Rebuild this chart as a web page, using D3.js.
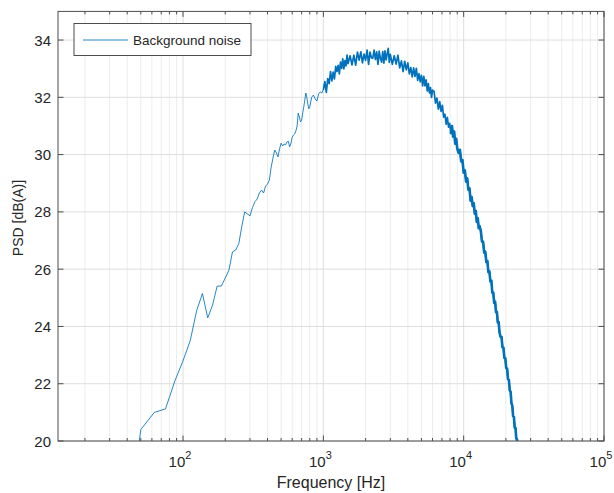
<!DOCTYPE html>
<html>
<head>
<meta charset="utf-8">
<script src="https://cdn.jsdelivr.net/npm/d3@7"></script>
<style>
body { margin:0; background:#fff; }
text { font-family: "Liberation Sans", Arial, sans-serif; fill:#262626; }
</style>
</head>
<body>
<script>
// PSD readings, low part (sparse FFT bins) then the dense noisy part
var freqLow = [37.5, 50, 62.5, 75, 87.5, 100, 112.5, 125, 137.5, 150, 162.5, 175, 187.5, 200, 212.5, 225, 237.5, 250, 262.5, 275,
  287.5, 300, 312.5, 325, 337.5, 350, 362.5, 375, 387.5, 400, 412.5, 425, 437.5, 450, 462.5, 475, 487.5, 500, 512.5, 525,
  537.5, 550, 562.5, 575, 587.5, 600, 612.5, 625, 637.5, 650, 662.5, 675, 687.5, 700, 712.5, 725, 737.5, 750, 762.5, 775,
  787.5, 800, 825, 850, 875, 900, 925, 950, 975, 1000];
var psdLow = [15.5, 20.4, 21.0, 21.12, 22.1, 22.8, 23.5, 24.55, 25.15, 24.3, 24.75, 25.41, 25.41, 25.69, 25.97, 26.6, 26.67, 26.9, 27.5, 28.0,
  27.93, 27.86, 28.15, 28.35, 28.45, 28.66, 28.76, 28.66, 28.9, 28.97, 29.11, 29.57, 29.88, 30.16, 30.06, 29.92, 30.2, 30.4, 30.3, 30.37,
  30.34, 30.44, 30.47, 30.27, 30.4, 30.61, 30.68, 30.72, 30.83, 31.0, 31.45, 31.31, 31.14, 31.2, 31.45, 31.66, 31.9, 32.15, 32.0, 31.77,
  31.6, 31.66, 32.0, 32.08, 31.94, 31.87, 32.12, 32.19, 32.15, 32.26];

var freqHigh = [1025, 1050, 1075, 1100, 1125, 1150, 1175, 1200, 1225, 1250, 1275, 1300, 1325, 1350, 1375, 1400, 1425, 1450, 1475, 1500,
  1550, 1600, 1650, 1700, 1750, 1800, 1850, 1900, 1950, 2000, 2050, 2100, 2150, 2200, 2250, 2300, 2350, 2400, 2450, 2500,
  2550, 2600, 2650, 2700, 2750, 2800, 2850, 2900, 2950, 3000,
  3100, 3200, 3300, 3400, 3500, 3600, 3700, 3800, 3900, 4000, 4100, 4200, 4300, 4400, 4500, 4600, 4700, 4800, 4900, 5000,
  5100, 5200, 5300, 5400, 5500, 5600, 5700, 5800, 5900, 6000,
  6150, 6300, 6450, 6600, 6750, 6900, 7050, 7200, 7350, 7500, 7650, 7800, 7950, 8100, 8250, 8400, 8550, 8700, 8850, 9000,
  9200, 9400, 9600, 9800, 10000, 10200, 10400, 10600, 10800, 11000, 11200, 11400, 11600, 11800, 12000, 12200, 12400, 12600, 12800, 13000,
  13250, 13500, 13750, 14000, 14250, 14500, 14750, 15000, 15250, 15500, 15750, 16000, 16250, 16500, 16750, 17000, 17250, 17500, 17750, 18000,
  18300, 18600, 18900, 19200, 19500, 19800, 20100, 20400, 20700, 21000, 21300, 21600, 21900, 22200, 22500, 22800, 23100, 23400, 23700, 24000,
  24300, 24600];
var psdHigh = [32.55, 32.17, 32.65, 32.48, 32.9, 32.57, 32.88, 32.64, 33.08, 32.9, 33.12, 32.82, 33.23, 33.01, 33.34, 32.99, 33.28, 33.1, 33.47, 33.18,
  33.45, 33.13, 33.47, 33.12, 33.58, 33.3, 33.59, 33.2, 33.51, 33.29, 33.65, 33.15, 33.58, 33.38, 33.37, 33.65, 33.32, 33.59, 33.15, 33.61,
  33.36, 33.23, 33.6, 33.19, 33.62, 33.31, 33.52, 33.71, 33.22, 33.5,
  33.15, 33.45, 33.16, 33.47, 33.03, 33.27, 32.9, 33.26, 32.96, 33.2, 32.82, 33.04, 32.71, 33.03, 32.73, 33.01, 32.59, 32.83, 32.54, 32.77,
  32.4, 32.73, 32.4, 32.61, 32.22, 32.48, 32.15, 32.34, 32.0, 32.25,
  32.21, 31.8, 31.97, 31.59, 31.85, 31.51, 31.72, 31.31, 31.41, 31.06, 31.3, 30.96, 31.09, 30.73, 31.0, 30.63, 30.81, 30.38, 30.55, 30.21,
  30.06, 30.17, 29.76, 29.81, 29.37, 29.45, 29.06, 29.17, 28.78, 28.82, 28.39, 28.52, 28.2, 28.3, 27.94, 28.03, 27.65, 27.78, 27.43, 27.5,
  27.33, 26.96, 26.96, 26.58, 26.61, 26.25, 26.29, 25.9, 25.92, 25.57, 25.6, 25.18, 25.18, 24.82, 24.87, 24.5, 24.51, 24.14, 24.15, 23.8,
  23.64, 23.64, 23.28, 23.26, 22.9, 22.89, 22.54, 22.53, 22.16, 22.13, 21.77, 21.72, 21.32, 21.24, 20.87, 20.84, 20.47, 20.46, 20.09, 20.06,
  19.67, 19.63];

var yTicks = [20, 22, 24, 26, 28, 30, 32, 34];
var xMajor = [1e2, 1e3, 1e4, 1e5];
var xMajorExp = ["2", "3", "4", "5"];
var seriesName = "Background noise";

var W = 614, H = 493;
var pLeft = 58, pRight = 604, pTop = 11.4, pBottom = 441;
var lineColor = "#0072BD";

var x = d3.scaleLog().domain([Math.pow(10, 1.109), 1e5]).range([pLeft, pRight]);
var y = d3.scaleLinear().domain([20, 35]).range([pBottom, pTop]);

// minor decade steps 2..9
var xMinor = [];
[10, 100, 1000, 10000].forEach(function(dec){
  for (var k = 2; k <= 9; k++) {
    var v = dec * k;
    if (v >= x.domain()[0]) xMinor.push(v);
  }
});

var lowData = freqLow.map(function(f, i){ return [f, psdLow[i]]; });
var highData = freqHigh.map(function(f, i){ return [f, psdHigh[i]]; });

var svg = d3.select("body").append("svg")
  .attr("width", W).attr("height", H);

svg.append("defs").append("clipPath").attr("id", "clip")
  .append("rect").attr("x", pLeft).attr("y", pTop)
  .attr("width", pRight - pLeft).attr("height", pBottom - pTop);

// grid
svg.selectAll(".gminor").data(xMinor).enter().append("line")
  .attr("x1", function(d){ return x(d); }).attr("x2", function(d){ return x(d); })
  .attr("y1", pTop).attr("y2", pBottom)
  .style("stroke", "#ededed").style("stroke-width", 1);
svg.selectAll(".gmajx").data(xMajor).enter().append("line")
  .attr("x1", function(d){ return x(d); }).attr("x2", function(d){ return x(d); })
  .attr("y1", pTop).attr("y2", pBottom)
  .style("stroke", "#dedede").style("stroke-width", 1);
svg.selectAll(".gmajy").data(yTicks).enter().append("line")
  .attr("x1", pLeft).attr("x2", pRight)
  .attr("y1", function(d){ return y(d); }).attr("y2", function(d){ return y(d); })
  .style("stroke", "#dedede").style("stroke-width", 1);

// curve: thin where bins are sparse, heavier where the noisy bins pile up
var line = d3.line()
  .x(function(d){ return x(d[0]); })
  .y(function(d){ return y(d[1]); });

var plot = svg.append("g").attr("clip-path", "url(#clip)");
plot.append("path").datum(lowData.concat([highData[0]]))
  .attr("d", line)
  .style("fill", "none").style("stroke", lineColor)
  .style("stroke-width", 1).style("stroke-opacity", 0.85)
  .style("stroke-linejoin", "round");
plot.append("path").datum([lowData[lowData.length - 1]].concat(highData))
  .attr("d", line)
  .style("fill", "none").style("stroke", lineColor)
  .style("stroke-width", 1.7)
  .style("stroke-linejoin", "round");
plot.append("path").datum(highData.filter(function(d){ return d[0] >= 8000; }))
  .attr("d", line)
  .style("fill", "none").style("stroke", lineColor)
  .style("stroke-width", 2.6)
  .style("stroke-linejoin", "round");

// box
svg.append("rect")
  .attr("x", pLeft).attr("y", pTop)
  .attr("width", pRight - pLeft).attr("height", pBottom - pTop)
  .style("fill", "none").style("stroke", "#4d4d4d").style("stroke-width", 1);

// inward ticks on all four sides
var axisColor = "#4d4d4d";
function vticks(vals, len) {
  vals.forEach(function(v){
    svg.append("line").attr("x1", x(v)).attr("x2", x(v)).attr("y1", pBottom).attr("y2", pBottom - len)
      .style("stroke", axisColor);
    svg.append("line").attr("x1", x(v)).attr("x2", x(v)).attr("y1", pTop).attr("y2", pTop + len)
      .style("stroke", axisColor);
  });
}
vticks(xMinor, 3);
vticks(xMajor, 5.5);
yTicks.forEach(function(v){
  svg.append("line").attr("x1", pLeft).attr("x2", pLeft + 5.5).attr("y1", y(v)).attr("y2", y(v))
    .style("stroke", axisColor);
  svg.append("line").attr("x1", pRight).attr("x2", pRight - 5.5).attr("y1", y(v)).attr("y2", y(v))
    .style("stroke", axisColor);
});

// tick labels
svg.selectAll(".ylab").data(yTicks).enter().append("text")
  .attr("x", pLeft - 7).attr("y", function(d){ return y(d) + 5.5; })
  .attr("text-anchor", "end")
  .style("font-size", "15px")
  .text(function(d){ return d; });

var xl = svg.selectAll(".xlab").data(xMajor).enter().append("text")
  .attr("x", function(d){ return x(d) - 3; }).attr("y", 467)
  .attr("text-anchor", "middle")
  .style("font-size", "15px");
xl.append("tspan").text("10");
xl.append("tspan").attr("dy", -8).style("font-size", "11px")
  .text(function(d, i){ return xMajorExp[i]; });

// axis titles
svg.append("text")
  .attr("x", (pLeft + pRight) / 2).attr("y", 488)
  .attr("text-anchor", "middle")
  .style("font-size", "16px")
  .text("Frequency [Hz]");
svg.append("text")
  .attr("transform", "translate(23,218) rotate(-90)")
  .attr("text-anchor", "middle")
  .style("font-size", "14px")
  .text("PSD [dB(A)]");

// legend
var lg = svg.append("g");
lg.append("rect").attr("x", 74).attr("y", 23.5).attr("width", 177).attr("height", 32)
  .style("fill", "#fff").style("stroke", "#4d4d4d").style("stroke-width", 1);
lg.append("line").attr("x1", 83).attr("x2", 128).attr("y1", 40).attr("y2", 40)
  .style("stroke", lineColor).style("stroke-width", 1).style("stroke-opacity", 0.85);
lg.append("text").attr("x", 133).attr("y", 45)
  .style("font-size", "13.5px")
  .text(seriesName);
</script>
</body>
</html>
